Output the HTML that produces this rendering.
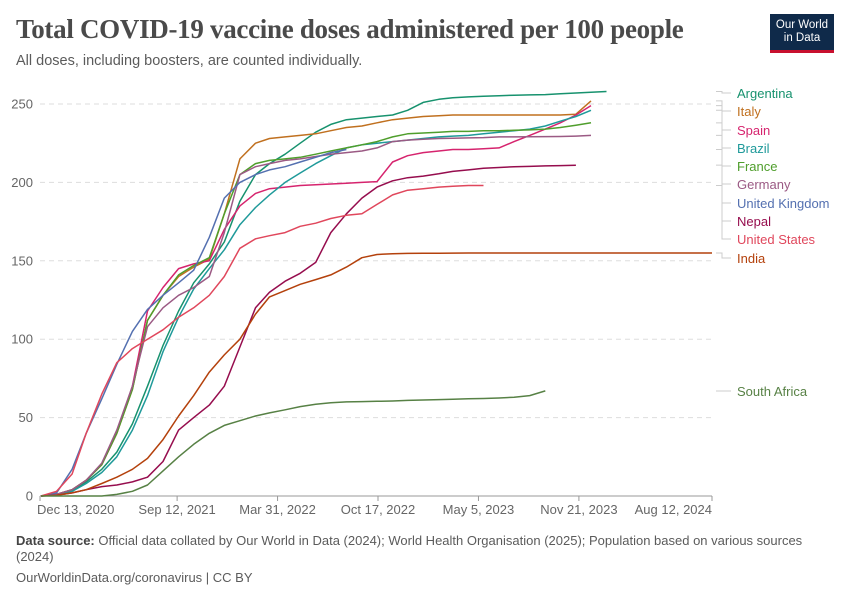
<!DOCTYPE html>
<html><head><meta charset="utf-8">
<style>
body{margin:0;background:#fff;width:850px;height:600px;overflow:hidden;font-family:"Liberation Sans",sans-serif;}
.title{position:absolute;left:16px;top:14px;font-family:"Liberation Serif",serif;font-size:27px;font-weight:bold;color:#4a4a4a;letter-spacing:-0.3px;}
.sub{position:absolute;left:16px;top:53px;font-size:14.5px;color:#5b5b5b;}
.logo{position:absolute;left:770px;top:14px;width:64px;height:39px;background:#0f2a4a;border-bottom:3px solid #c8102e;box-sizing:border-box;color:#fff;font-size:11.5px;text-align:center;line-height:13px;padding-top:5px;}
.foot{position:absolute;left:16px;font-size:13px;color:#5b5b5b;line-height:16px;}
</style></head><body>
<div class="title">Total COVID-19 vaccine doses administered per 100 people</div>
<div class="sub">All doses, including boosters, are counted individually.</div>
<div class="logo">Our World<br>in Data</div>
<svg id="chart" width="850" height="600" style="position:absolute;left:0;top:0"></svg>
<div class="foot" style="top:533px;width:800px"><b style="color:#444">Data source:</b> Official data collated by Our World in Data (2024); World Health Organisation (2025); Population based on various sources (2024)</div>
<div class="foot" style="top:570px">OurWorldinData.org/coronavirus | CC BY</div>
<script>
const yTicks=[0,50,100,150,200,250];
const xTickDates=["2020-12-13","2021-09-12","2022-03-31","2022-10-17","2023-05-05","2023-11-21","2024-08-12"];
const xTickLabels=["Dec 13, 2020","Sep 12, 2021","Mar 31, 2022","Oct 17, 2022","May 5, 2023","Nov 21, 2023","Aug 12, 2024"];
const countries=["Argentina","Italy","Spain","Brazil","France","Germany","United Kingdom","Nepal","United States","India","South Africa"];
const colors=["#17926e","#c0701f","#d6246e","#1f9a9a","#4f9e2c","#9b5a84","#5470b0","#960d4e","#e0475c","#b4410c","#578145"];
const labelY=[93,111,130,148,166,184,203,221,239,258,391];
const months=["2020-12-15","2021-01-15","2021-02-15","2021-03-15","2021-04-15","2021-05-15","2021-06-15","2021-07-15","2021-08-15","2021-09-15","2021-10-15","2021-11-15","2021-12-15","2022-01-15","2022-02-15","2022-03-15","2022-04-15","2022-05-15","2022-06-15","2022-07-15","2022-08-15","2022-09-15","2022-10-15","2022-11-15","2022-12-15","2023-01-15","2023-02-15","2023-03-15","2023-04-15","2023-05-15","2023-06-15","2023-07-15","2023-08-15","2023-09-15","2023-10-15","2023-11-15","2023-12-15","2024-01-15","2024-02-15","2024-03-15","2024-04-15","2024-05-15","2024-06-15","2024-07-15","2024-08-12"];
const argentina=[0,1,3,9,17,28,46,70,96,118,136,148,162,188,205,212,218,225,232,237,240,241,242,243,246,251,253,254,254.5,255,255.3,255.6,255.8,256,256.5,257,257.5,258];
const italy=[0,1,4,10,20,40,68,112,128,140,146,151,180,215,225,228,229,230,231,233,235,236,238,240,241,242,242.5,243,243,243,243,243,243,243,243,243.5,252];
const spain=[0,1,4,10,20,40,70,118,133,145,148,150,170,185,193,196,197,198,198.5,199,199.5,200,200.5,213,217,219,220,221,221,221.5,222,226,230,234,238,243,249];
const brazil=[0,1,3,8,15,25,42,64,92,114,132,145,157,173,184,192,200,206,212,217,222,224,225,226,227,228,229,229.5,230,231,232,233,234,236,239,242,246];
const france=[0,1,4,10,20,40,68,112,128,141,147,152,180,205,212,214,215,216,218,220,222,224,226,229,231,231.5,232,232.5,232.5,233,233,233.2,233.5,234,235,236.5,238];
const germany=[0,1,4,10,21,42,70,108,120,128,133,140,168,205,210,212,214,215,216.5,218,219,220,222,226,227,227.5,228,228.2,228.4,228.6,229,229,229.1,229.2,229.3,229.5,230];
const uk=[0,2,17,40,62,84,105,119,128,136,144,165,190,200,205,208,210,213,216,219,221];
const nepal=[0,0.5,2,4,6,7,9,12,22,42,50,58,70,95,120,130,137,142,149,168,180,190,197,201,203,204,205.5,207,208,209,209.5,210,210.2,210.5,210.7,211];
const us=[0,3,14,40,65,85,94,100,106,114,120,128,140,158,164,166,168,172,174,177,179,180,186,192,195,196,197,197.5,198,198];
const india=[0,0.5,2,4,8,12,17,24,36,51,64,79,90,100,116,127,131,135,138,141,146,152,154,154.5,154.7,154.8,154.8,154.9,155,155,155,155,155,155,155,155,155,155,155,155,155,155,155,155,155];
const southAfrica=[0,0,0,0,0,1,3,7,16,25,33,40,45,48,51,53,55,57,58.5,59.5,60,60.2,60.4,60.6,61,61.2,61.5,61.7,62,62.2,62.5,63,64,67];
const series=[argentina,italy,spain,brazil,france,germany,uk,nepal,us,india,southAfrica];

const svg=document.getElementById('chart');const NS='http://www.w3.org/2000/svg';
const X0=40,X1=712,Y0=496,Y250=104;
const t0=Date.UTC(2020,11,13),t1=Date.UTC(2024,7,12);
function pd(s){const p=s.split('-');return Date.UTC(+p[0],+p[1]-1,+p[2]);}
function xs(s){return X0+(pd(s)-t0)/(t1-t0)*(X1-X0);}
function ys(v){return Y0-v/250*(Y0-Y250);}
function mk(tag,at,parent){const e=document.createElementNS(NS,tag);for(const k in at)e.setAttribute(k,at[k]);(parent||svg).appendChild(e);return e;}
yTicks.forEach((v,i)=>{
  const l=mk('line',{x1:X0,x2:X1,y1:ys(v),y2:ys(v),stroke:v===0?'#999':'#ddd','stroke-dasharray':v===0?'':'5,4'});
  
  
  const t=mk('text',{x:33,y:ys(v)+4.5,'text-anchor':'end','font-size':13,fill:'#666'});t.textContent=v;
  
  
});
xTickDates.forEach((d,i)=>{
  const x=xs(d);
  const tk=mk('line',{x1:x,x2:x,y1:Y0,y2:Y0+5,stroke:'#999'});
  
  
  const anchor=i===0?'start':(i===xTickDates.length-1?'end':'middle');
  const t=mk('text',{x:i===0?x-3:x,y:514,'text-anchor':anchor,'font-size':13,fill:'#666'});t.textContent=xTickLabels[i];
  
  
});
series.forEach((vals,i)=>{
  let d='';
  vals.forEach((v,j)=>{d+=(j?'L':'M')+xs(months[j]).toFixed(1)+','+ys(v).toFixed(1);});
  const p=mk('path',{d:d,fill:'none',stroke:colors[i],'stroke-width':1.5,'stroke-linejoin':'round'});
  
  
  const endY=ys(vals[vals.length-1]);const ly=labelY[i];
  const c=mk('polyline',{points:`716,${endY} 722,${endY} 722,${ly} 731,${ly}`,fill:'none',stroke:'#ccc','stroke-width':1});
  
  
  const t=mk('text',{x:737,y:ly+5,'font-size':13,fill:colors[i]});t.textContent=countries[i];
  
  
});
</script>
</body></html>
